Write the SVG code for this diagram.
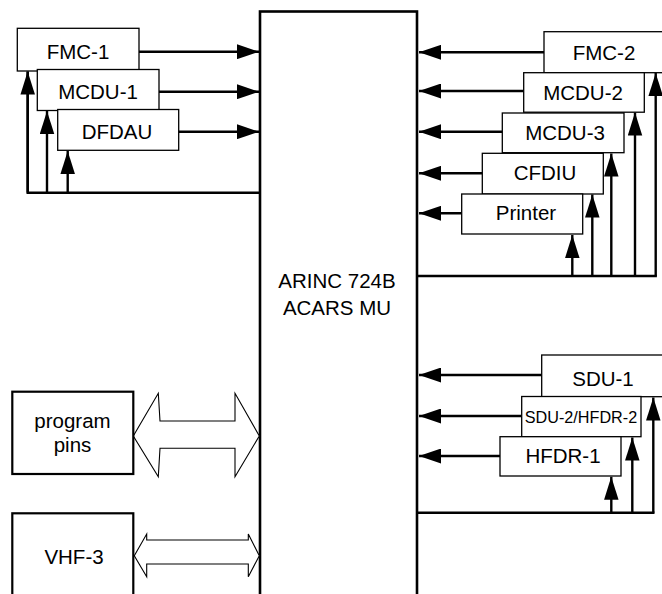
<svg xmlns="http://www.w3.org/2000/svg" width="662" height="594" viewBox="0 0 662 594">
<style>
.box{fill:#fff;stroke:#000;stroke-width:1.3}
.tbox{fill:#fff;stroke:#000;stroke-width:2.2}
.main{fill:#fff;stroke:#000;stroke-width:2.6}
.lbl{font-family:"Liberation Sans",Arial,Helvetica,sans-serif;font-size:20.5px;fill:#000;text-anchor:middle}
.sm{font-size:16.2px}
.ln{fill:none;stroke:#000;stroke-width:2.4}
.dbl{fill:#fff;stroke:#000;stroke-width:1.1;stroke-linejoin:miter}
</style>
<defs>
<marker id="ah" markerUnits="userSpaceOnUse" markerWidth="22" markerHeight="15" refX="22" refY="7.5" orient="auto">
<path d="M0,0 L22,7.5 L0,15 Z" fill="#000"/>
</marker>
<marker id="av" markerUnits="userSpaceOnUse" markerWidth="23" markerHeight="15" refX="23" refY="7.25" orient="auto">
<path d="M0,0 L23,7.25 L0,14.5 Z" fill="#000"/>
</marker>
</defs>

<g id="acars-mu">
<rect class="main" x="260" y="11.5" width="157" height="600"/>
<text class="lbl" x="337" y="288">ARINC 724B</text>
<text class="lbl" x="337" y="315">ACARS MU</text>
</g>

<g id="connectors">
<line class="ln" x1="139" y1="51.7" x2="259" y2="51.7" marker-end="url(#ah)"/>
<line class="ln" x1="159" y1="91.7" x2="259" y2="91.7" marker-end="url(#ah)"/>
<line class="ln" x1="178.7" y1="131.7" x2="259" y2="131.7" marker-end="url(#ah)"/>
<polyline class="ln" points="27.7,71.5 27.7,192.7 260,192.7"/>
<line class="ln" x1="27.7" y1="192.7" x2="27.7" y2="71.5" marker-end="url(#av)"/>
<line class="ln" x1="47" y1="192.7" x2="47" y2="111" marker-end="url(#av)"/>
<line class="ln" x1="67.7" y1="192.7" x2="67.7" y2="151" marker-end="url(#av)"/>
<line class="ln" x1="544" y1="52.3" x2="419" y2="52.3" marker-end="url(#ah)"/>
<line class="ln" x1="523.7" y1="91" x2="419" y2="91" marker-end="url(#ah)"/>
<line class="ln" x1="502.3" y1="131.7" x2="419" y2="131.7" marker-end="url(#ah)"/>
<line class="ln" x1="482.3" y1="173.3" x2="419" y2="173.3" marker-end="url(#ah)"/>
<line class="ln" x1="461.7" y1="213.3" x2="419" y2="213.3" marker-end="url(#ah)"/>
<line class="ln" x1="417" y1="276" x2="656.9" y2="276"/>
<line class="ln" x1="655.7" y1="276" x2="655.7" y2="73" marker-end="url(#av)"/>
<line class="ln" x1="635" y1="276" x2="635" y2="112.5" marker-end="url(#av)"/>
<line class="ln" x1="611.3" y1="276" x2="611.3" y2="153.5" marker-end="url(#av)"/>
<line class="ln" x1="592.3" y1="276" x2="592.3" y2="194.5" marker-end="url(#av)"/>
<line class="ln" x1="572.3" y1="276" x2="572.3" y2="235" marker-end="url(#av)"/>
<line class="ln" x1="541.7" y1="375" x2="419" y2="375" marker-end="url(#ah)"/>
<line class="ln" x1="521.7" y1="416" x2="419" y2="416" marker-end="url(#ah)"/>
<line class="ln" x1="500" y1="456" x2="419" y2="456" marker-end="url(#ah)"/>
<line class="ln" x1="417" y1="512.7" x2="654.5" y2="512.7"/>
<line class="ln" x1="653.3" y1="512.7" x2="653.3" y2="397.5" marker-end="url(#av)"/>
<line class="ln" x1="632.3" y1="512.7" x2="632.3" y2="437.5" marker-end="url(#av)"/>
<line class="ln" x1="611.3" y1="512.7" x2="611.3" y2="476.8" marker-end="url(#av)"/>
<polygon class="dbl" points="133.3,436 158.3,393.3 160,421 235,421 235,393.3 259.3,436 235,476.7 235,448.3 160,448.3 158.3,476.7"/>
<polygon class="dbl" points="134.3,555.7 146.7,534 146.7,540 248.3,540 248.3,534 259.3,555.7 248.3,576.7 248.3,564 146.7,564 146.7,576.7"/>
</g>

<g id="fmc-1">
<rect class="box" x="17.3" y="28.3" width="121.7" height="42.7"/>
<text class="lbl" x="78" y="58.5">FMC-1</text>
</g>
<g id="mcdu-1">
<rect class="box" x="37.3" y="69.5" width="121.7" height="41"/>
<text class="lbl" x="98" y="98.5">MCDU-1</text>
</g>
<g id="dfdau">
<rect class="box" x="57.7" y="109.5" width="121" height="40.8"/>
<text class="lbl" x="117" y="138.5">DFDAU</text>
</g>

<g id="fmc-2">
<rect class="box" x="544" y="31.7" width="125" height="41"/>
<text class="lbl" x="604" y="60">FMC-2</text>
</g>
<g id="mcdu-2">
<rect class="box" x="523.7" y="72.7" width="120.6" height="39.5"/>
<text class="lbl" x="583" y="100">MCDU-2</text>
</g>
<g id="mcdu-3">
<rect class="box" x="502.3" y="113" width="121.7" height="39.7"/>
<text class="lbl" x="565" y="140">MCDU-3</text>
</g>
<g id="cfdiu">
<rect class="box" x="482.3" y="153.3" width="121" height="40.7"/>
<text class="lbl" x="545" y="180">CFDIU</text>
</g>
<g id="printer">
<rect class="box" x="461.7" y="194" width="121" height="40"/>
<text class="lbl" x="526" y="220">Printer</text>
</g>

<g id="sdu-1">
<rect class="box" x="541.7" y="355" width="125" height="41.7"/>
<text class="lbl" x="603" y="385.7">SDU-1</text>
</g>
<g id="sdu-2-hfdr-2">
<rect class="box" x="521.7" y="396.5" width="119.3" height="40.2"/>
<text class="lbl sm" x="581" y="423">SDU-2/HFDR-2</text>
</g>
<g id="hfdr-1">
<rect class="box" x="500" y="436.7" width="121" height="39.3"/>
<text class="lbl" x="563" y="462.7">HFDR-1</text>
</g>

<g id="program-pins">
<rect class="tbox" x="12.3" y="391.7" width="121" height="82.3"/>
<text class="lbl" x="72.5" y="428">program</text>
<text class="lbl" x="72.5" y="452">pins</text>
</g>
<g id="vhf-3">
<rect class="tbox" x="12.3" y="513.3" width="121" height="100"/>
<text class="lbl" x="74" y="564">VHF-3</text>
</g>
</svg>
